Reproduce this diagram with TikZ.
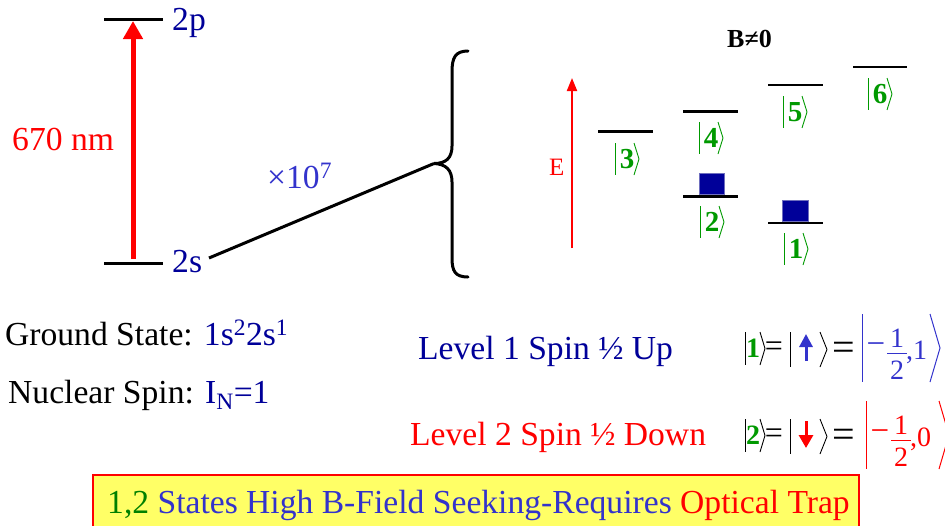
\documentclass[tikz,border=0pt]{standalone}
\usepackage{fontspec}
\setmainfont{Liberation Serif}
\usetikzlibrary{arrows.meta}
\definecolor{dblue}{RGB}{0,0,153}
\definecolor{mblue}{RGB}{51,51,204}
\definecolor{kgreen}{RGB}{0,153,0}
\definecolor{bgreen}{RGB}{0,128,0}
\definecolor{byellow}{RGB}{255,255,102}
\definecolor{sqedge}{RGB}{110,110,190}
\newcommand\fs[1]{\fontsize{#1}{#1}\selectfont}
\newcommand\ketlab[4]{%
  \node[ketd] (#1) at (#2,#3) {#4};
  \draw[ketg] (#1.center) ++(-11.5,-16) -- ++(0,32);
  \draw[ketg] (#1.center) ++(7,-16) -- ++(5,16) -- ++(-5,16);
}
\begin{document}
\begin{tikzpicture}[x=1pt,y=-1pt,
  txt/.style={inner sep=0pt, anchor=base west, font=\fs{33.6}},
  levl/.style={line width=3.3pt},
  levr/.style={line width=2.8pt},
  ketd/.style={inner sep=0pt, font=\fs{29}\bfseries, text=kgreen},
  ketg/.style={kgreen, line width=0.9pt},
  brk/.style={line width=0.9pt},
  sq/.style={fill=dblue, draw=sqedge, line width=0.8pt, inner sep=0pt},
  small/.style={inner sep=0pt, font=\fs{28}},
]
\useasboundingbox (0,0) rectangle (945,525);

% ---- left: 2s / 2p ----
\coordinate (p2a) at (104,19.5);
\coordinate (p2b) at (163,19.5);
\coordinate (s2a) at (104,263.5);
\coordinate (s2b) at (163,263.5);
\draw[levl] (p2a) -- (p2b);
\draw[levl] (s2a) -- (s2b);
\coordinate (arrS) at (133,259);
\coordinate (arrE) at (133,21);
\draw[red, line width=5pt, -{Triangle[width=19pt,length=18pt]}] (arrS) -- (arrE);
\node[txt, text=dblue] (t2p) at (172,30) {2p};
\node[txt, text=dblue] (t2s) at (172,272) {2s};
\node[txt, text=red] (nm) at (12,150) {670 nm};
\node[txt, text=mblue] (x107) at (267,188) {×10\textsuperscript{7}};

% ---- connector and brace ----
\coordinate (lnS) at (209,258);
\coordinate (tip) at (434,163.5);
\draw[line width=3pt] (lnS) -- (tip);
\draw[line width=3pt, line cap=round] (468,51) .. controls (455,51) and (452,58) .. (452,72)
   -- (452,146) .. controls (452,158) and (446,163.5) .. (tip)
   .. controls (446,164) and (452,170) .. (452,182)
   -- (452,258) .. controls (452,271) and (455,277) .. (468,277);

% ---- right: B != 0 levels ----
\node[txt, font=\fs{26}\bfseries] (bne) at (727,47) {B≠0};
\coordinate (eS) at (572,248);
\coordinate (eE) at (572,78);
\draw[red, line width=2pt, -{Triangle[width=10pt,length=13pt]}] (eS) -- (eE);
\node[txt, text=red, font=\fs{25}] (tE) at (549,175) {E};

\coordinate (l3a) at (598,131.5); \coordinate (l3b) at (653,131.5);
\coordinate (l4a) at (683,111.5); \coordinate (l4b) at (738,111.5);
\coordinate (l2a) at (683,196.5); \coordinate (l2b) at (738,196.5);
\coordinate (l5a) at (768,85);    \coordinate (l5b) at (823,85);
\coordinate (l1a) at (768,223);   \coordinate (l1b) at (823,223);
\coordinate (l6a) at (853,67);    \coordinate (l6b) at (907,67);
\foreach \n in {3,4,2,5,1,6} { \draw[levr] (l\n a) -- (l\n b); }

\node[sq, minimum width=25pt, minimum height=21pt] (sq2) at (711.5,184) {};
\node[sq, minimum width=26pt, minimum height=21pt] (sq1) at (795,211) {};

\ketlab{k3}{627}{159}{3}
\ketlab{k4}{711}{138}{4}
\ketlab{k2}{712}{222}{2}
\ketlab{k5}{795}{112}{5}
\ketlab{k1}{796}{249}{1}
\ketlab{k6}{880}{94}{6}

% ---- lower left text ----
\node[txt] (gs) at (5,345) {Ground State: \textcolor{dblue}{1s\textsuperscript{2}2s\textsuperscript{1}}};
\node[txt] (ns) at (8,403) {Nuclear Spin: \textcolor{dblue}{I\textsubscript{N}=1}};

% ---- level descriptions ----
\node[txt, text=dblue] (lv1) at (418,359) {Level 1 Spin ½ Up};
\node[txt, text=red] (lv2) at (410,445) {Level 2 Spin ½ Down};

% ---- row 1 formula ----
\draw[brk] (745,332) -- (745,365);
\node[inner sep=0pt, font=\fs{28}\bfseries, text=kgreen] (r1k) at (753,348.5) {1};
\draw[brk] (760,332) -- (765,348.5) -- (760,365);
\node[inner sep=0pt, font=\fs{32}] (r1e1) at (774,349) {=};
\draw[brk] (790,332) -- (790,367);
\coordinate (upS) at (806,361);
\coordinate (upE) at (806,334);
\draw[mblue, line width=3pt, -{Triangle[width=13pt,length=13pt]}] (upS) -- (upE);
\draw[brk] (820,332) -- (827,349.5) -- (820,367);
\node[inner sep=0pt, font=\fs{40}] (r1e2) at (844,351) {=};
\draw[mblue, line width=1pt] (862,314) -- (862,382);
\node[inner sep=0pt, font=\fs{33}, text=mblue] (r1m) at (876,349) {−};
\node[inner sep=0pt, font=\fs{28}, text=mblue] (r1n) at (897,338.5) {1};
\draw[mblue, line width=0.9pt] (887,353) -- (907,353);
\node[inner sep=0pt, font=\fs{28}, text=mblue] (r1d) at (897,370) {2};
\node[small, anchor=base west, text=mblue] (r1c) at (906,359) {,1};
\draw[mblue, line width=1pt] (930,314) -- (940,348) -- (930,382);

% ---- row 2 formula ----
\draw[brk] (745,419) -- (745,452);
\node[inner sep=0pt, font=\fs{28}\bfseries, text=kgreen] (r2k) at (753,435.5) {2};
\draw[brk] (760,419) -- (765,435.5) -- (760,452);
\node[inner sep=0pt, font=\fs{32}] (r2e1) at (774,436) {=};
\draw[brk] (790,419) -- (790,454);
\coordinate (dnS) at (806,421);
\coordinate (dnE) at (806,448);
\draw[red, line width=3pt, -{Triangle[width=14pt,length=13pt]}] (dnS) -- (dnE);
\draw[brk] (820,419) -- (827,436.5) -- (820,454);
\node[inner sep=0pt, font=\fs{40}] (r2e2) at (844,438) {=};
\draw[red, line width=1pt] (866,401) -- (866,469);
\node[inner sep=0pt, font=\fs{33}, text=red] (r2m) at (880,436) {−};
\node[inner sep=0pt, font=\fs{28}, text=red] (r2n) at (901,425.5) {1};
\node[inner sep=0pt, font=\fs{28}, text=red] (r2d) at (901,457) {2};
\draw[red, line width=0.9pt] (891,440) -- (911,440);
\node[small, anchor=base west, text=red] (r2c) at (910,446) {,0};
\draw[red, line width=1pt] (939,401) -- (949,435) -- (939,469);

% ---- bottom box ----
\node[draw=red, fill=byellow, line width=1.5pt, minimum width=766pt, minimum height=58pt,
      inner sep=0pt, anchor=north west] (box) at (92,474) {};
\node[txt] (boxt) at (107,513) {\textcolor{bgreen}{1,2} \textcolor{mblue}{States High B-Field Seeking-Requires} \textcolor{red}{Optical Trap}};
\end{tikzpicture}
\end{document}
